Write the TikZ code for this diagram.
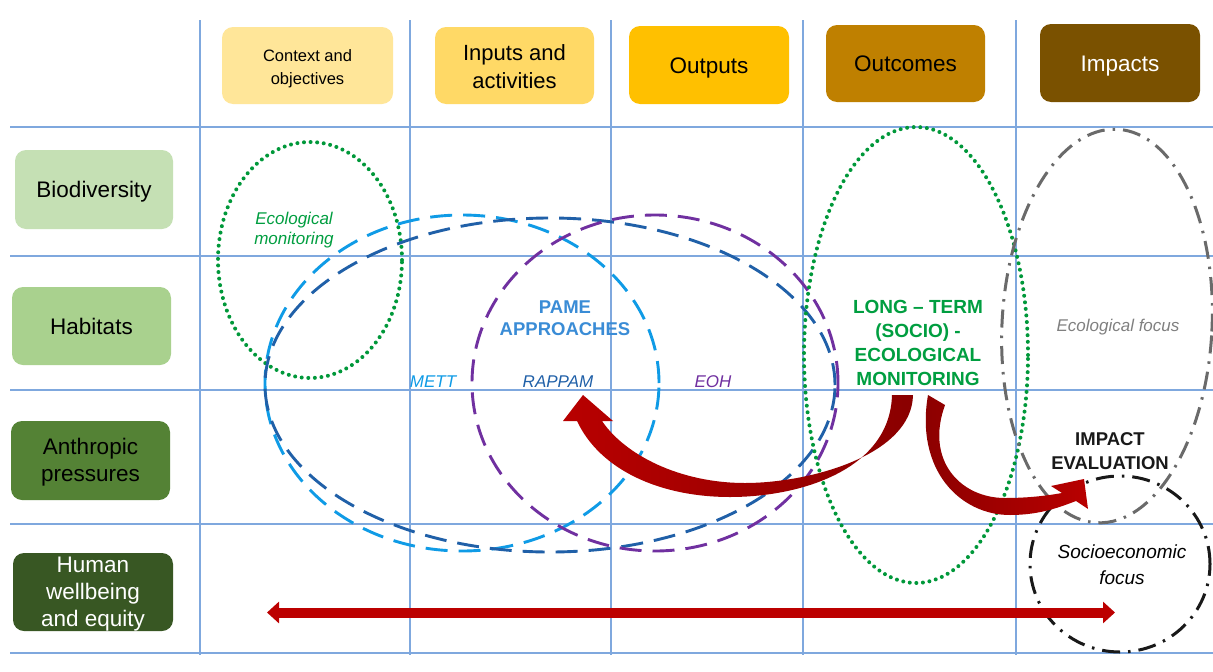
\documentclass[tikz,border=0pt]{standalone}
\usepackage{fontspec}
\setmainfont{Liberation Sans}
\usetikzlibrary{arrows.meta}
\definecolor{gridc}{HTML}{7FA8DE}
\definecolor{ctxc}{HTML}{FFE699}
\definecolor{inpc}{HTML}{FFD966}
\definecolor{outpc}{HTML}{FFC000}
\definecolor{outcc}{HTML}{BF8000}
\definecolor{impc}{HTML}{7A5100}
\definecolor{bioc}{HTML}{C5E0B4}
\definecolor{habc}{HTML}{A9D18E}
\definecolor{antc}{HTML}{548235}
\definecolor{humc}{HTML}{385723}
\definecolor{lblue}{HTML}{0F9BE6}
\definecolor{dblue}{HTML}{2060A8}
\definecolor{purp}{HTML}{7030A0}
\definecolor{grn}{HTML}{00983A}
\definecolor{grntxt}{HTML}{009E40}
\definecolor{pametxt}{HTML}{3A8CD6}
\definecolor{greyc}{HTML}{6A6A6A}
\definecolor{arrowbright}{HTML}{B80000}
\definecolor{arrowdark}{HTML}{8A0000}
\definecolor{hred}{HTML}{BC0000}
\begin{document}
\begin{tikzpicture}[x=1pt,y=-1pt,
  gridline/.style={draw=gridc,line width=1.3pt},
  cell/.style={rounded corners=11pt,inner sep=0pt,align=center,font=\fontsize{22.5}{27}\selectfont,text height=17pt,text depth=1pt},
  celltext/.style={inner sep=0pt,align=center,font=\fontsize{22.5}{27}\selectfont},
  dashell/.style={line width=2.9pt,dash pattern=on 22pt off 11pt},
  dotell/.style={draw=grn,line width=4pt,line cap=round,dash pattern=on 0pt off 6.6pt},
  dashdotell/.style={line width=3pt,dash pattern=on 18pt off 8pt on 2.5pt off 8pt},
  lbl/.style={inner sep=0pt,align=center}]
\useasboundingbox (0,0) rectangle (1213,672);
\fill[white] (0,0) rectangle (1213,672);
% grid
\foreach \x in {200,410,611,803,1016} \draw[gridline] (\x,20) -- (\x,655);
\foreach \y in {127,256,390,524,653} \draw[gridline] (10,\y) -- (1213,\y);
% column headers
\node[cell,fill=ctxc,minimum width=171pt,minimum height=77pt] (ctx) at (307.5,65.5) {};
\node[celltext,font=\fontsize{16.5}{23}\selectfont] (ctxt) at ([yshift=-3pt]ctx.center) {Context and\\objectives};
\node[cell,fill=inpc,minimum width=159pt,minimum height=77pt] (inp) at (514.5,65.5) {};
\node[celltext,font=\fontsize{22}{28}\selectfont] (inpt) at ([yshift=-1pt]inp.center) {Inputs and\\activities};
\node[cell,fill=outpc,minimum width=160pt,minimum height=78pt] (outp) at (709,65) {Outputs};
\node[cell,fill=outcc,minimum width=159pt,minimum height=77pt] (outc) at (905.5,63.5) {Outcomes};
\node[cell,fill=impc,minimum width=160pt,minimum height=78pt,text=white] (imp) at (1120,63) {Impacts};
% row headers
\node[cell,fill=bioc,minimum width=158pt,minimum height=79pt] (bio) at (94,189.5) {Biodiversity};
\node[cell,fill=habc,minimum width=159pt,minimum height=78pt] (hab) at (91.5,326) {Habitats};
\node[cell,fill=antc,minimum width=159pt,minimum height=79pt] (ant) at (90.5,460.5) {};
\node[celltext] (antt) at ([yshift=-2pt]ant.center) {Anthropic\\pressures};
\node[cell,fill=humc,minimum width=160pt,minimum height=78pt] (hum) at (93,592) {};
\node[celltext,text=white] (humt) at ([yshift=-2.5pt]hum.center) {Human\\wellbeing\\and equity};
% ellipses
\draw[dotell] (310,260) ellipse [x radius=92pt,y radius=118pt];
\draw[dashell,draw=lblue] (462,383) ellipse [x radius=197pt,y radius=168pt];
\draw[dashell,draw=dblue] (550,385) ellipse [x radius=285pt,y radius=167pt];
\draw[dashell,draw=purp] (655,383) ellipse [x radius=183pt,y radius=168pt];
\draw[dotell] (916,355) ellipse [x radius=112pt,y radius=228pt];
\draw[dashdotell,draw=greyc,rotate around={-3:(1107,326)}] (1107,326) ellipse [x radius=105pt,y radius=197pt];
\draw[dashdotell,draw=black!90] (1120,564) ellipse [x radius=90pt,y radius=88pt];
% texts
\node[lbl,text=grntxt,font=\fontsize{17}{20}\selectfont\itshape] (ecomon) at (294,230) {Ecological\\monitoring};
\node[lbl,text=pametxt,font=\fontsize{18.5}{22}\selectfont\bfseries] (pame) at (565,318) {PAME\\APPROACHES};
\node[lbl,text=lblue,font=\fontsize{17}{20}\selectfont\itshape] (mett) at (433,382) {METT};
\node[lbl,text=dblue,font=\fontsize{17}{20}\selectfont\itshape] (rappam) at (558,382) {RAPPAM};
\node[lbl,text=purp,font=\fontsize{17}{20}\selectfont\itshape] (eoh) at (713,382) {EOH};
\node[lbl,text=grntxt,font=\fontsize{19}{24}\selectfont\bfseries] (ltm) at (918,343) {LONG -- TERM\\(SOCIO) -\\ECOLOGICAL\\MONITORING};
\node[lbl,text=greyc!85,font=\fontsize{17}{20}\selectfont\itshape] (ecofocus) at (1118,327) {Ecological focus};
\node[lbl,text=black!90,font=\fontsize{18.5}{24}\selectfont\bfseries] (impev) at (1110,451) {IMPACT\\EVALUATION};
\node[lbl,text=black,font=\fontsize{19}{26}\selectfont\itshape] (socio) at (1122,565) {Socioeconomic\\focus};
% arrows
\coordinate (hl) at (267,612.5);
\coordinate (hr) at (1115,612.5);
\draw[draw=hred,line width=10pt,{Triangle[length=12pt,width=21pt]}-{Triangle[length=12pt,width=21pt]}] (hl) -- (hr);
\shade[left color=arrowbright,right color=arrowdark]
  (577,421) .. controls (600,470) and (660,497) .. (730,497)
  .. controls (800,497) and (890,470) .. (892,395)
  -- (913,395)
  .. controls (912,455) and (810,483) .. (745,483)
  .. controls (680,483) and (625,455) .. (602,421)
  -- (613,421) -- (583,395) -- (563,421) -- cycle;
\shade[left color=arrowdark,right color=arrowbright]
  (928,395) .. controls (915,470) and (960,515) .. (1010,515)
  .. controls (1040,515) and (1060,507) .. (1076,501)
  -- (1088,509) -- (1084,479) -- (1051,486) -- (1062,493)
  .. controls (1040,497) and (1020,498) .. (1005,498)
  .. controls (960,498) and (925,460) .. (945,405) -- cycle;
\end{tikzpicture}
\end{document}
